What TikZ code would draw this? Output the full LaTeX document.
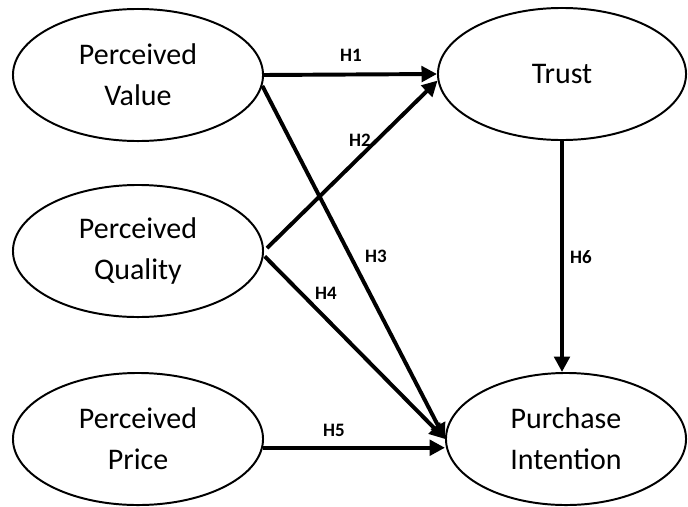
\documentclass[tikz,border=0pt]{standalone}
\usepackage{fontspec}
\setmainfont{Carlito}
\usetikzlibrary{shapes.geometric,arrows.meta}

\begin{document}
\begin{tikzpicture}[x=0.025cm,y=-0.025cm,
    construct/.style={ellipse,draw,line width=1.4pt,minimum width=6.25cm,minimum height=3.3cm,
        inner sep=0pt,align=center,font=\fontsize{21.3}{29}\selectfont},
    hypline/.style={line width=2.8pt,-{Triangle[length=11pt,width=11pt]}},
    hyp/.style={font=\fontsize{13.5}{16}\selectfont\bfseries}]
    \useasboundingbox (0,0) rectangle (688,506);

    % Constructs
    \node[construct] (pv) at (138,75) {Perceived\\Value};
    \node[construct] (pq) at (138,251) {Perceived\\Quality};
    \node[construct] (pp) at (138,439) {Perceived\\Price};
    \node[construct,minimum width=6.2cm] (trust) at (562,74) {Trust};
    \node[construct,minimum width=6cm] (pi) at (566,439) {Purchase\\Intention};

    % Hypothesised paths
    \draw[hypline] (pv.east) -- (trust.west);
    \draw[hypline] (pv.-5) -- (pi.west);
    \draw[hypline,shorten <=3pt] (pq.east) -- (trust.183);
    \draw[hypline,shorten <=1pt] (pq.-2) -- (pi.west);
    \draw[hypline] (pp.-4) -- (pp.-4 -| pi.west);
    \draw[hypline] (trust.south) -- (trust.south |- pi.north);

    % Labels
    \node[hyp] (h1) at (351,55) {H1};
    \node[hyp] (h2) at (360,140) {H2};
    \node[hyp] (h3) at (376,256) {H3};
    \node[hyp] (h4) at (326,293) {H4};
    \node[hyp] (h5) at (334,430) {H5};
    \node[hyp] (h6) at (581,257) {H6};
\end{tikzpicture}
\end{document}
